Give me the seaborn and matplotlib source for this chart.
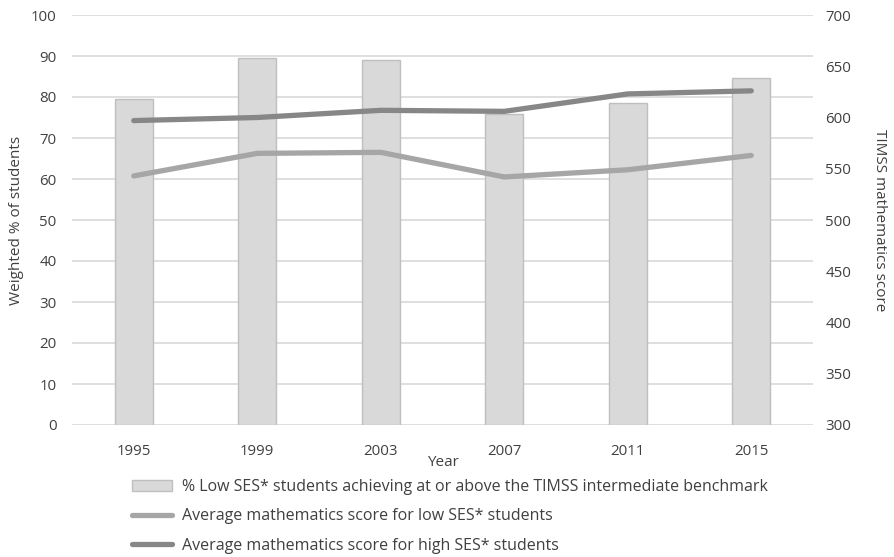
import numpy as np
import pandas as pd
import matplotlib.pyplot as plt
import seaborn as sns
from matplotlib.patches import Patch
from matplotlib.lines import Line2D

# Data
years = ["1995", "1999", "2003", "2007", "2011", "2015"]
pct_low_ses = [79.4, 89.5, 89.0, 75.9, 78.6, 84.7]
score_low_ses = [543, 565, 566, 542, 549, 563]
score_high_ses = [597, 600, 607, 606, 623, 626]

bar_label = "% Low SES* students achieving at or above the TIMSS intermediate benchmark"
low_label = "Average mathematics score for low SES* students"
high_label = "Average mathematics score for high SES* students"

sns.set_theme(style="white")
plt.rcParams["font.family"] = ["Open Sans", "DejaVu Sans"]
text_color = "#404040"

df = pd.DataFrame({"year": years, "pct": pct_low_ses,
                   "low": score_low_ses, "high": score_high_ses})
df["pos"] = np.arange(len(years))

fig = plt.figure(figsize=(8.94, 5.57), dpi=100)
ax = fig.add_axes([72 / 894, 1 - 425 / 557, (813 - 72) / 894, (425 - 15) / 557])

sns.barplot(data=df, x="year", y="pct", ax=ax, color="#d9d9d9",
            edgecolor="#bfbfbf", linewidth=1, width=0.31, saturation=1)
ax.set_ylim(0, 100)
ax.set_yticks(range(0, 101, 10))
ax.set_xlim(-0.5, len(years) - 0.5)
ax.grid(axis="y", color="#d9d9d9", linewidth=1.2)
ax.set_axisbelow(True)
ax.set_xlabel("Year", fontsize=11, color=text_color, labelpad=-3)
ax.set_ylabel("Weighted % of students", fontsize=11, color=text_color, labelpad=5)
ax.tick_params(axis="y", length=0, labelsize=10.8, labelcolor=text_color, pad=11)
ax.tick_params(axis="x", length=0, labelsize=10.8, labelcolor=text_color, pad=14)

ax2 = ax.twinx()
sns.lineplot(data=df, x="pos", y="low", ax=ax2, color="#a6a6a6", linewidth=3.8,
             solid_capstyle="round")
sns.lineplot(data=df, x="pos", y="high", ax=ax2, color="#878787", linewidth=3.8,
             solid_capstyle="round")
ax2.set_ylim(300, 700)
ax2.set_yticks(range(300, 701, 50))
ax2.set_xlim(-0.5, len(years) - 0.5)
ax2.set_ylabel("TIMSS mathematics score", fontsize=11, color=text_color,
               rotation=-90, labelpad=26)
ax2.tick_params(axis="y", length=0, labelsize=10.8, labelcolor=text_color, pad=9)

for a in (ax, ax2):
    for s in a.spines.values():
        s.set_visible(False)

handles = [
    Patch(facecolor="#d9d9d9", edgecolor="#bfbfbf", linewidth=1),
    Line2D([0], [0], color="#a6a6a6", linewidth=3.8, solid_capstyle="round"),
    Line2D([0], [0], color="#878787", linewidth=3.8, solid_capstyle="round"),
]
fig.legend(handles, [bar_label, low_label, high_label], loc="upper left",
           bbox_to_anchor=(118 / 894, 1 - 465 / 557), frameon=False,
           fontsize=11.5, labelcolor=text_color, handlelength=2.5,
           handleheight=0.7, labelspacing=0.82, handletextpad=0.6)

fig.savefig("out.png", dpi=100)
